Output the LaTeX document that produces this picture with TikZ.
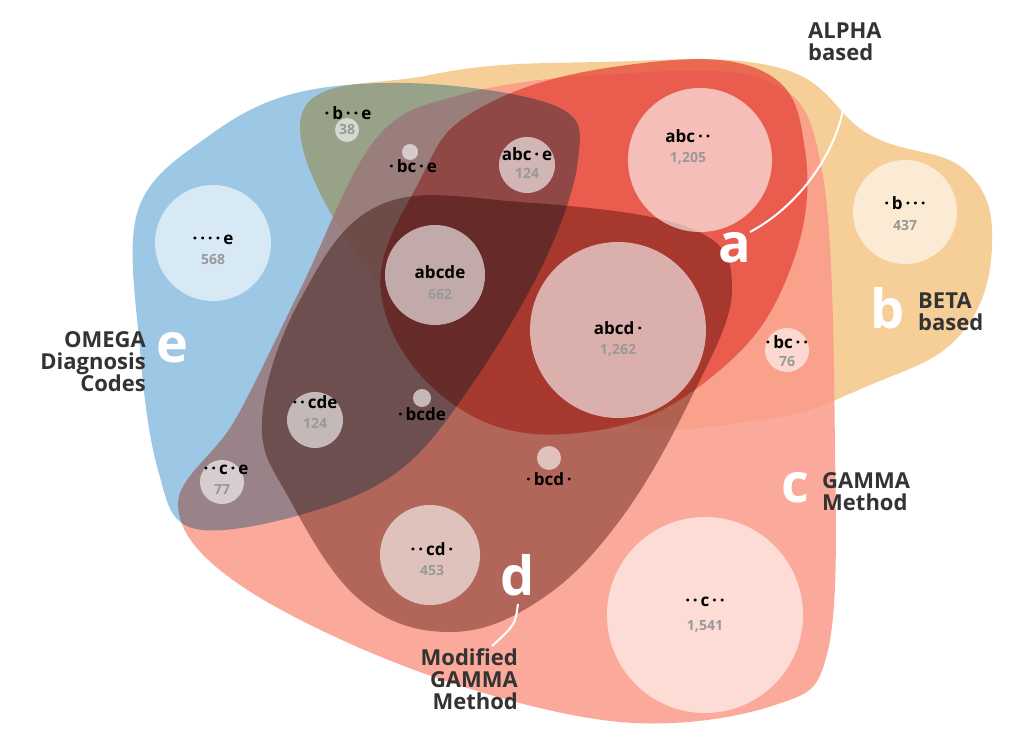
\documentclass[tikz,border=0pt]{standalone}
\usepackage{fontspec}
\setmainfont{Open Sans}
\begin{document}
\begin{tikzpicture}[x=1pt,y=-1pt,
  circ/.style={circle,fill=white,fill opacity=0.6,inner sep=0pt},
  lab/.style={font=\bfseries\fontsize{17}{17}\selectfont,text=black,inner sep=0pt},
  num/.style={font=\bfseries\fontsize{14}{14}\selectfont,text=black!40,inner sep=0pt},
  big/.style={font=\bfseries\fontsize{54}{54}\selectfont,text=white,inner sep=0pt},
  leg/.style={font=\bfseries\fontsize{22}{22}\selectfont,text=black!80,inner sep=0pt,align=left},
  lead/.style={draw=white,line width=2pt}]
\useasboundingbox (0,0) rectangle (1024,751);
\definecolor{cb}{HTML}{F6CF98}
\definecolor{cc}{HTML}{FA9A88}
\definecolor{ca}{HTML}{E5473A}
\definecolor{ce}{HTML}{9DC8E5}
\definecolor{cd}{HTML}{7A4A40}
% b
\fill[cb] plot[smooth cycle,tension=0.7] coordinates {(300,125) (430,75) (600,62) (780,68) (870,135) (965,170) (992,245) (960,335) (870,385) (760,420) (600,420) (420,330)};
% c
\fill[cc,opacity=0.85] plot[smooth cycle,tension=0.6] coordinates {(178,505) (235,420) (300,290) (375,140) (460,95) (600,75) (765,80) (822,170) (835,450) (828,650) (775,705) (620,722) (420,672) (240,585)};
% a
\fill[ca,opacity=0.75] plot[smooth cycle,tension=0.7] coordinates {(480,108) (620,66) (760,70) (805,150) (790,270) (720,370) (600,430) (465,412) (382,300) (420,180)};
% e
\fill[ce,blend mode=multiply] plot[smooth cycle,tension=0.6] coordinates {(138,210) (210,135) (300,92) (430,84) (560,108) (578,160) (545,260) (475,380) (400,470) (300,515) (192,528) (158,470) (140,350)};
% d
\fill[cd,opacity=0.55,blend mode=multiply] plot[smooth cycle,tension=0.65] coordinates {(300,300) (380,205) (520,202) (690,228) (732,290) (690,400) (620,520) (540,600) (450,632) (360,600) (290,500) (262,420)};
% circles
\node[circ,minimum size=144pt] (c1) at (700,160) {};
\node[circ,minimum size=104pt] (c2) at (905,212) {};
\node[circ,minimum size=116pt] (c3) at (213,243) {};
\node[circ,minimum size=100pt] (c4) at (435,275) {};
\node[circ,minimum size=176pt] (c5) at (618,330) {};
\node[circ,minimum size=44pt] (c6) at (787,350) {};
\node[circ,minimum size=56pt] (c7) at (315,420) {};
\node[circ,minimum size=18pt] (c8) at (422,398) {};
\node[circ,minimum size=44pt] (c9) at (222,482) {};
\node[circ,minimum size=24pt] (c10) at (549,458) {};
\node[circ,minimum size=100pt] (c11) at (430,555) {};
\node[circ,minimum size=196pt] (c12) at (705,615) {};
\node[circ,minimum size=24pt] (c13) at (347,130) {};
\node[circ,minimum size=16pt] (c14) at (410,152) {};
\node[circ,minimum size=56pt] (c15) at (527,165) {};
% labels
\node[lab] (t1) at (688,136) {abc\,·\,·};   \node[num] (n1) at (688,158) {1,205};
\node[lab] (t2) at (905,203) {·\,b\,·\,·\,·}; \node[num] (n2) at (905,225) {437};
\node[lab] (t3) at (213,240) {·\,·\,·\,·\,e}; \node[num] (n3) at (213,260) {568};
\node[lab] (t4) at (440,272) {abcde};     \node[num] (n4) at (440,294) {662};
\node[lab] (t5) at (618,328) {abcd\,·};   \node[num] (n5) at (618,350) {1,262};
\node[lab] (t6) at (787,342) {·\,bc\,·\,·}; \node[num] (n6) at (787,362) {76};
\node[lab] (t7) at (315,402) {·\,·\,cde};  \node[num] (n7) at (315,423) {124};
\node[lab] (t8) at (422,414) {·\,bcde};
\node[lab] (t9) at (226,470) {·\,·\,c\,·\,e}; \node[num] (n9) at (222,490) {77};
\node[lab] (t10) at (549,479) {·\,bcd\,·};
\node[lab] (t11) at (432,549) {·\,·\,cd\,·}; \node[num] (n11) at (432,570) {453};
\node[lab] (t12) at (705,602) {·\,·\,c\,·\,·}; \node[num] (n12) at (705,626) {1,541};
\node[lab] (t13) at (348,113) {·\,b\,·\,·\,e}; \node[num] (n13) at (347,130) {38};
\node[lab] (t14) at (413,166) {·\,bc\,·\,e};
\node[lab] (t15) at (527,154) {abc\,·\,e}; \node[num] (n15) at (527,173) {124};
% big letters
\node[big] (ba) at (735,248) {a};
\node[big] (bb) at (888,308) {b};
\node[big] (bc) at (795,488) {c};
\node[big] (bd) at (518,575) {d};
\node[big] (be) at (172,348) {e};
% legends
\node[leg,anchor=west] (la) at (808,42) {ALPHA\\based};
\node[leg,anchor=west] (lb) at (918,312) {BETA\\based};
\node[leg,anchor=west] (lc) at (822,492) {GAMMA\\Method};
\node[leg,align=right,anchor=north east] (ld) at (518,648) {Modified\\GAMMA\\Method};
\node[leg,align=right,anchor=east] (le) at (146,362) {OMEGA\\Diagnosis\\Codes};
\coordinate (a1) at (750,232);
\coordinate (a2) at (845,78);
\coordinate (d1) at (518,604);
\coordinate (d2) at (492,646);
\draw[lead] (a1) .. controls (810,200) and (850,130) .. (a2);
\draw[lead] (d1) .. controls (515,625) .. (d2);
\end{tikzpicture}
\end{document}
